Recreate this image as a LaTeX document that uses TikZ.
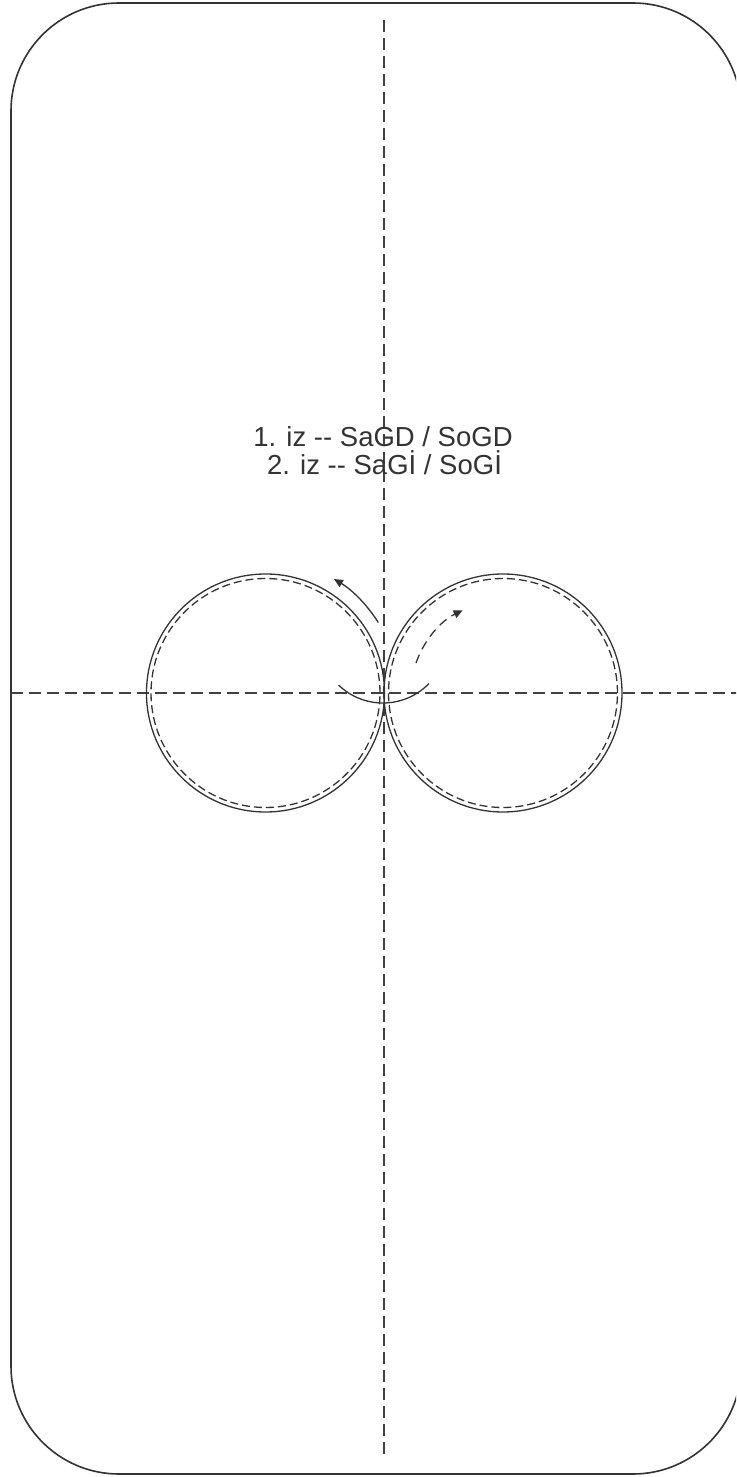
\documentclass[tikz,border=0pt]{standalone}
\usepackage{fontspec}
\setmainfont{Liberation Sans}
\usepackage{xcolor}
\usetikzlibrary{positioning, arrows.meta, calc}

\begin{document}
\begin{tikzpicture}[
    x=1pt, y=1pt,
    >={Triangle[length=9pt,width=8pt]},
    line width=1.3pt,
    draw=black!80,
    axis/.style={draw=black!75, line width=1.5pt, dash pattern=on 12pt off 6pt},
    ring/.style={circle, draw=black!80, line width=1.3pt, minimum size=238pt, inner sep=0pt},
    dring/.style={circle, draw=black!80, line width=1.3pt, dash pattern=on 8pt off 4pt,
                  minimum size=229pt, inner sep=0pt},
    lbl/.style={text=black!80, font=\fontsize{27.5}{30}\selectfont, inner sep=0pt},
]
  % Page
  \path[use as bounding box, clip] (-384,-784) rectangle (352,693);
  \draw[black!80, line width=1.6pt, rounded corners=108pt] (-373,-781) rectangle (357,690);
  % Axes
  \coordinate (top) at (0,673);
  \coordinate (bot) at (0,-762);
  \coordinate (lft) at (-373,0);
  \coordinate (rgt) at (356,0);
  \draw[axis] (top) -- (bot);
  \draw[axis] (lft) -- (rgt);
  % Circles
  \node[ring] (lc) at (-118.5,0) {};
  \node[ring] (rc) at (119,0) {};
  \node[dring] (lcd) at (-118.5,0) {};
  \node[dring] (rcd) at (119,0) {};
  % Label
  \node[lbl, anchor=base] (iz1) at (-1,246) {1. iz -{}- SaGD / SoGD};
  \node[lbl, anchor=base] (iz2) at (0.5,218.5) {2. iz -{}- SaGİ / SoGİ};
  % Turn arrows
  \coordinate (a1) at ($(lc.center)+(32:133)$);
  \coordinate (a2) at ($(rc.center)+(161:92)$);
  \coordinate (u1) at ($(-1,54)+(-134:64)$);
  \draw[->] (a1) arc[start angle=32, end angle=59, radius=133];
  \draw[->, dash pattern=on 9pt off 6pt] (a2) arc[start angle=161, end angle=116, radius=92];
  \draw (u1) arc[start angle=-134, end angle=-44, radius=64];
\end{tikzpicture}
\end{document}
